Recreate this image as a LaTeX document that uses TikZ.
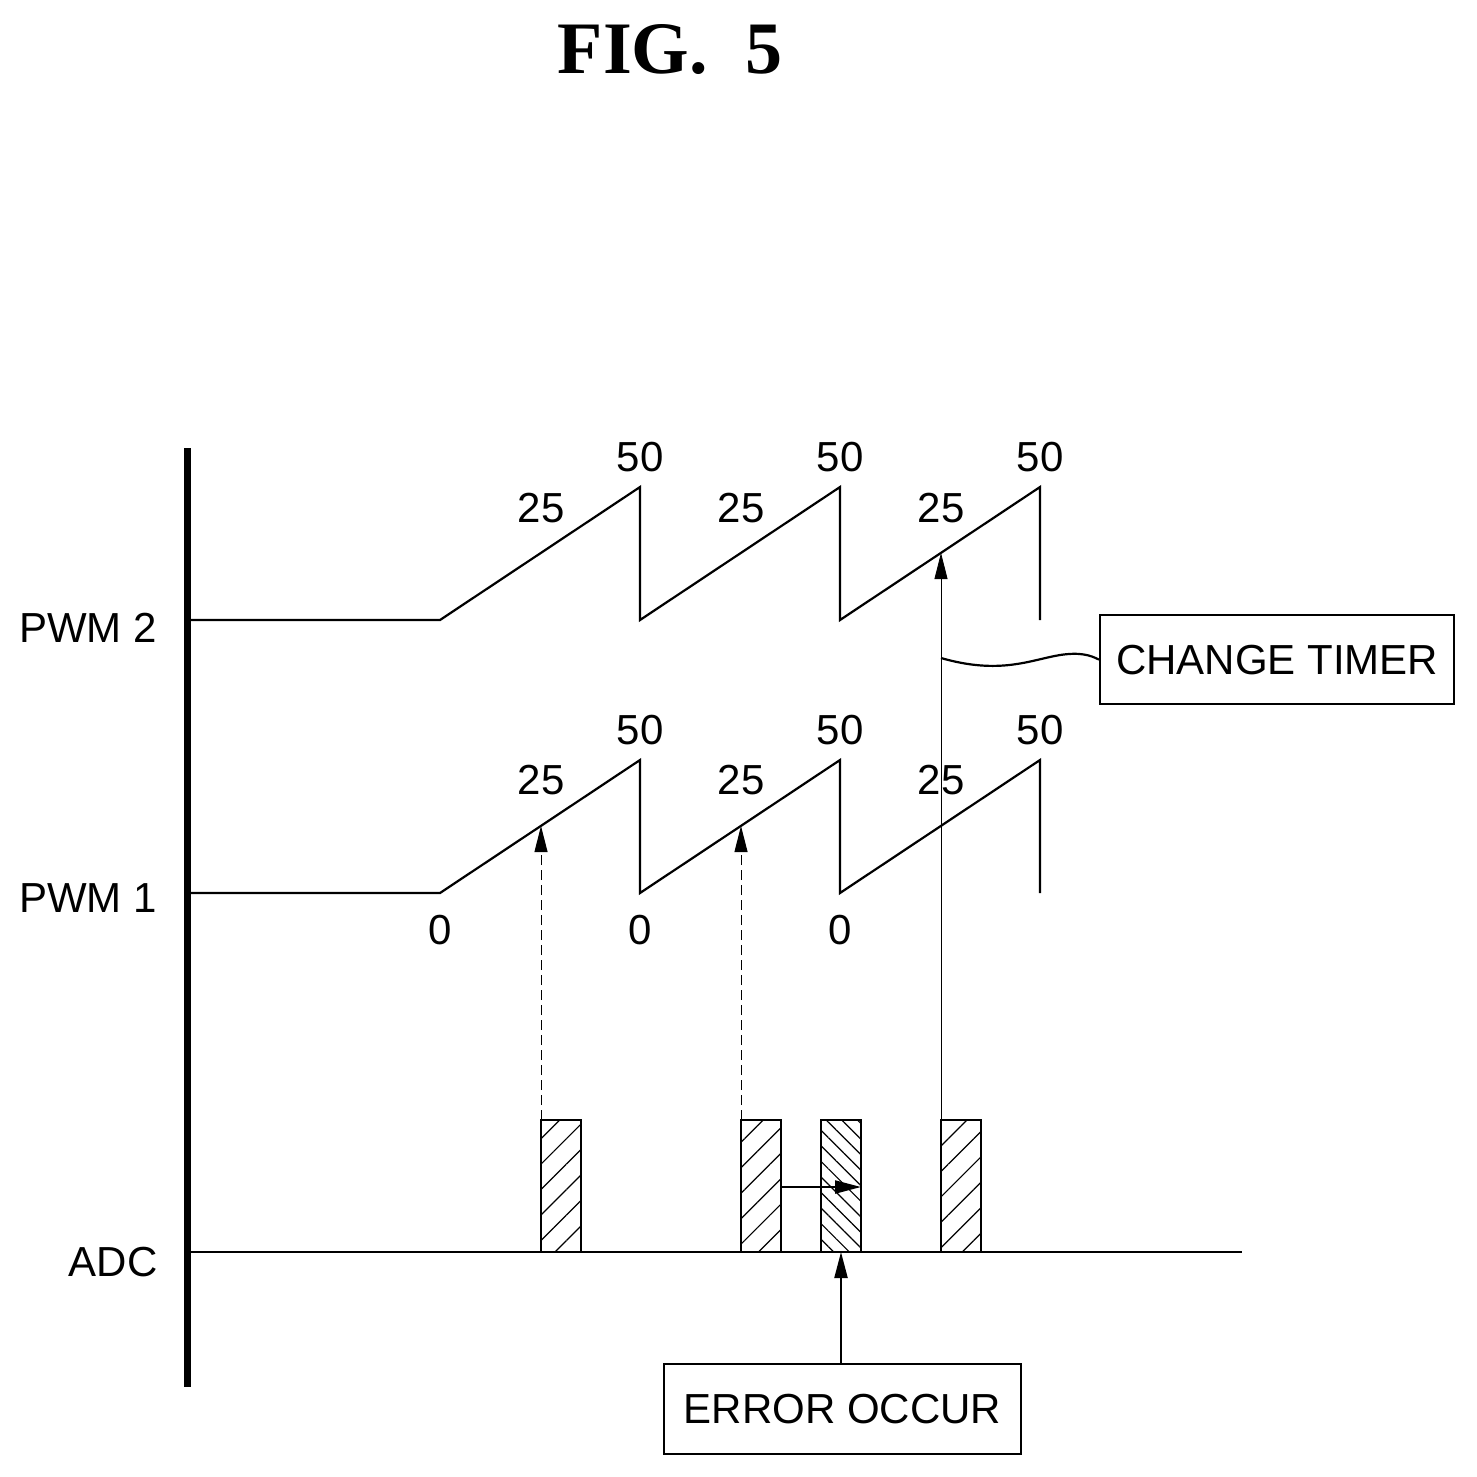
\documentclass[tikz,border=0pt]{standalone}
\usepackage{fontspec}
\setmainfont{Liberation Sans}
\newfontfamily\titlefont{Liberation Serif}
\usetikzlibrary{patterns.meta,arrows.meta}
\begin{document}
\begin{tikzpicture}[x=1pt,y=-1pt,
  lbl/.style={font=\fontsize{42}{48}\selectfont,inner sep=0pt},
  sig/.style={line width=2.2pt},
  tip/.style={-{Triangle[length=26pt,width=13pt]}},
  bx/.style={draw,line width=2.2pt,font=\fontsize{42}{48}\selectfont,inner sep=0pt,anchor=north west}]
\useasboundingbox (0,0) rectangle (1477,1476);
\node[font=\titlefont\bfseries\fontsize{74}{80}\selectfont] (title) at (670,50) {FIG.\ \ 5};
\fill (184,448) rectangle (191,1387);
\node[lbl] (l2) at (88,628) {PWM 2};
\node[lbl] (l1) at (88,898) {PWM 1};
\node[lbl] (la) at (113,1262) {ADC};
\draw[sig] (191,620) -- (440,620) -- (640,487) -- (640,620) -- (840,487) -- (840,620) -- (1040,487) -- (1040,620);
\draw[sig] (191,893) -- (440,893) -- (640,760) -- (640,893) -- (840,760) -- (840,893) -- (1040,760) -- (1040,893);
\foreach \x in {640,840,1040}{
  \node[lbl] at (\x,457) {50};
  \node[lbl] at (\x-99,508) {25};
  \node[lbl] at (\x,730) {50};
  \node[lbl] at (\x-99,780) {25};
}
\foreach \x in {440,640,840} \node[lbl] at (\x,930) {0};
\draw[sig] (191,1252) -- (1242,1252);
\foreach \x in {541,741,941}
  \draw[line width=2.2pt,pattern={Lines[angle=45,distance=18pt,line width=1.2pt]}] (\x,1120) rectangle (\x+40,1252);
\draw[line width=2.2pt,pattern={Lines[angle=-45,distance=11pt,line width=1.2pt]}] (821,1120) rectangle (861,1252);
\coordinate (d1) at (541,1120); \coordinate (t1) at (541,826);
\coordinate (d2) at (741,1120); \coordinate (t2) at (741,826);
\coordinate (d3) at (941,1120); \coordinate (t3) at (941,553);
\draw[line width=1pt,dash pattern=on 10pt off 5pt,tip] (d1) -- (t1);
\draw[line width=1pt,dash pattern=on 10pt off 5pt,tip] (d2) -- (t2);
\draw[line width=0.8pt,tip] (d3) -- (t3);
\coordinate (s1) at (781,1187); \coordinate (s2) at (861,1187);
\draw[sig,tip] (s1) -- (s2);
\node[bx,minimum width=357pt,minimum height=90pt] (err) at (663,1363) {ERROR OCCUR};
\coordinate (e0) at (841,1363); \coordinate (e1) at (841,1252);
\draw[sig,tip] (e0) -- (e1);
\node[bx,minimum width=354pt,minimum height=89pt] (ct) at (1099,614) {CHANGE TIMER};
\draw[sig] (941,658) .. controls (1000,675) and (1030,660) .. (1060,655) .. controls (1080,652) and (1090,655) .. (ct.west);
\end{tikzpicture}
\end{document}
